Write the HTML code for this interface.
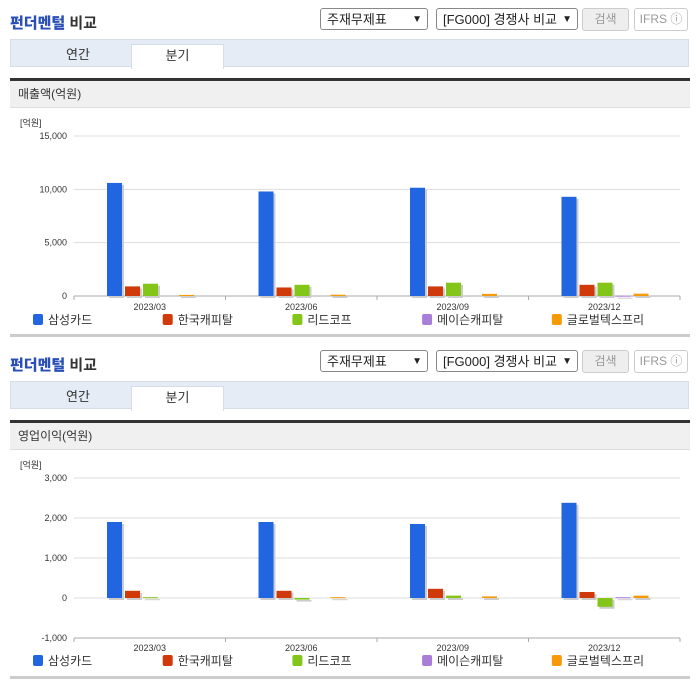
<!DOCTYPE html>
<html><head><meta charset="utf-8">
<style>
body{margin:0;width:696px;height:684px;background:#fff;font-family:"Liberation Sans","Noto Sans CJK KR",sans-serif;overflow:hidden;position:relative}
.blk{position:absolute;left:0;width:696px;height:342px}
.title{position:absolute;left:10px;top:12px;font-size:15px;font-weight:bold;color:#333}
.title b{color:#2a50b8}
.sel{position:absolute;top:8px;height:22px;border:1px solid #888;border-radius:3px;font-size:13px;line-height:22px;padding-left:6px;box-sizing:border-box;background:#fff;color:#222}
.sel span{position:absolute;right:5px;top:0;font-size:10px}
.btn{position:absolute;top:8px;height:23px;border:1px solid #ccc;border-radius:3px;font-size:12px;line-height:21px;text-align:center;color:#999;box-sizing:border-box}
.tabs{position:absolute;left:10px;top:39px;width:679px;height:28px;background:#e5ecf6;border:1px solid #d5dde8;box-sizing:border-box}
.tab{position:absolute;top:4px;height:24px;font-size:13px;line-height:22px;text-align:center;color:#333}
.hdr{position:absolute;left:10px;top:78px;width:680px;height:30px;background:#f0f0f0;border-top:3px solid #333;border-bottom:1px solid #ddd;box-sizing:border-box;font-size:12px;line-height:27px;padding-left:8px;color:#333}
.bot{position:absolute;left:10px;top:334px;width:680px;height:3px;background:#ccc}
svg{position:absolute;left:0;top:0}
</style></head><body>

<div class="blk" style="top:0">
<div class="title"><b>펀더멘털</b> 비교</div>
<div class="sel" style="left:320px;width:108px">주재무제표<span>▼</span></div>
<div class="sel" style="left:436px;width:142px">[FG000] 경쟁사 비교<span>▼</span></div>
<div class="btn" style="left:582px;width:47px;background:#eee">검색</div>
<div class="btn" style="left:634px;width:54px">IFRS ⓘ</div>
<div class="tabs">
<div class="tab" style="left:22px;width:90px">연간</div>
<div class="tab" style="left:120px;width:91px;background:#fff;border:1px solid #d5dde8;border-bottom:none">분기</div>
</div>
<div class="hdr">매출액(억원)</div>
<svg id="c1" width="696" height="342"></svg>
<div class="bot"></div>
</div>

<div class="blk" style="top:342px">
<div class="title"><b>펀더멘털</b> 비교</div>
<div class="sel" style="left:320px;width:108px">주재무제표<span>▼</span></div>
<div class="sel" style="left:436px;width:142px">[FG000] 경쟁사 비교<span>▼</span></div>
<div class="btn" style="left:582px;width:47px;background:#eee">검색</div>
<div class="btn" style="left:634px;width:54px">IFRS ⓘ</div>
<div class="tabs">
<div class="tab" style="left:22px;width:90px">연간</div>
<div class="tab" style="left:120px;width:91px;background:#fff;border:1px solid #d5dde8;border-bottom:none">분기</div>
</div>
<div class="hdr">영업이익(억원)</div>
<svg id="c2" width="696" height="342"></svg>
<div class="bot"></div>
</div>

<script>
const categories=["2023/03","2023/06","2023/09","2023/12"];
const seriesNames=["삼성카드","한국캐피탈","리드코프","메이슨캐피탈","글로벌텍스프리"];
const colors=["#2166e0","#d03a0b","#84c51a","#a97ed8","#f79a0a"];
const revSamsung=[10600,9800,10150,9300];
const revHankook=[900,800,900,1050];
const revLead=[1150,1050,1250,1250];
const revMason=[0,0,0,30];
const revGlobal=[100,120,200,220];
const revTicks=[0,5000,10000,15000];
const opSamsung=[1900,1900,1850,2380];
const opHankook=[180,180,230,150];
const opLead=[20,-40,60,-220];
const opMason=[0,0,0,20];
const opGlobal=[0,20,40,60];
const opTicks=[-1000,0,1000,2000,3000];

const NS="http://www.w3.org/2000/svg";
function mk(svg,tag,attrs,text){const e=document.createElementNS(NS,tag);for(const k in attrs)e.setAttribute(k,attrs[k]);if(text!==undefined)e.textContent=text;svg.appendChild(e);return e;}
function draw(id,series,ticks,yTop,yBot,xLabelY,legendY){
  const svg=document.getElementById(id);
  const x0=74,x1=680,min=ticks[0],max=ticks[ticks.length-1];
  const y=v=>yBot-(v-min)/(max-min)*(yBot-yTop);
  const cw=(x1-x0)/categories.length;
  const xb=(c,s)=>x0+c*cw+33+s*18;
  mk(svg,'text',{x:20,y:yTop-10,'font-size':9,fill:'#333'},'[억원]');
  ticks.forEach(t=>{
    const g=mk(svg,'line',{x1:x0,x2:x1,y1:y(t),y2:y(t),stroke:'#ddd'});
    
    
    const l=mk(svg,'text',{x:67,y:y(t)+3,'font-size':9,fill:'#333','text-anchor':'end'},t.toLocaleString('en-US'));
    
    
  });
  mk(svg,'line',{x1:x0,x2:x1,y1:yBot,y2:yBot,stroke:'#aaa'});
  for(let c=0;c<=categories.length;c++)mk(svg,'line',{x1:x0+c*cw,x2:x0+c*cw,y1:yBot,y2:yBot+4,stroke:'#aaa'});
  categories.forEach((cat,c)=>{
    const t=mk(svg,'text',{x:x0+c*cw+cw/2,y:xLabelY,'font-size':9,fill:'#333','text-anchor':'middle'},cat);
    
    
    series.forEach((arr,s)=>{
      const v=arr[c];
      if(v===0)return;
      const ya=y(Math.max(v,0)),yb=y(Math.min(v,0));
      const h=Math.max(yb-ya,1);
      mk(svg,'rect',{x:xb(c,s)+2,y:ya+2,width:15,height:h,fill:'#ccc'});
      const r=mk(svg,'rect',{x:xb(c,s),y:ya,width:15,height:h,fill:colors[s]});
      
      
    });
  });
  seriesNames.forEach((n,s)=>{
    const lx=33+s*129.7;
    const sq=mk(svg,'rect',{x:lx,y:legendY-6,width:10,height:11,rx:2,fill:colors[s]});
    
    
    const t=mk(svg,'text',{x:lx+15,y:legendY+4,'font-size':12,fill:'#333'},n);
    
    
  });
}
draw('c1',[revSamsung,revHankook,revLead,revMason,revGlobal],revTicks,136,296,310,320);
draw('c2',[opSamsung,opHankook,opLead,opMason,opGlobal],opTicks,136,296,309,319);
</script>
</body></html>
